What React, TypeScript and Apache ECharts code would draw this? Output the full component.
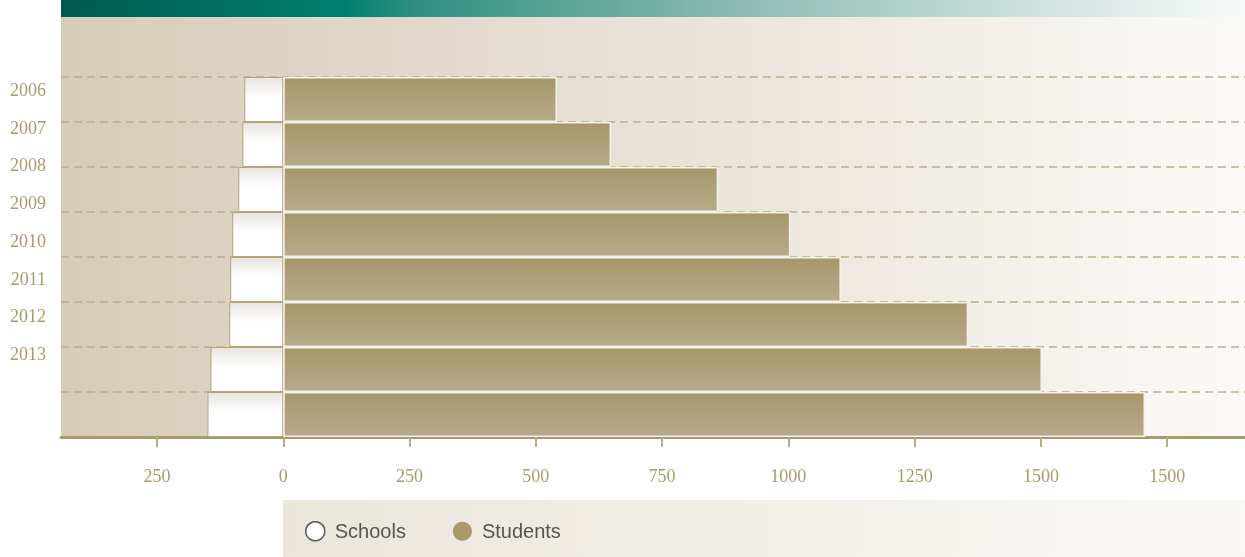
import React, { useEffect, useRef } from "react";
import * as echarts from "echarts";

const years = ["2006", "2007", "2008", "2009", "2010", "2011", "2012", "2013"];
const barSlots = ["1", "2", "3", "4", "5", "6", "7", "8"];
const schools = [77, 81, 89, 101, 105, 107, 144, 150];
const students = [542, 649, 861, 1004, 1104, 1356, 1502, 1706];
const xTickValues = [-250, 0, 250, 500, 750, 1000, 1250, 1500, 1750];
const xTickLabels = ["250", "0", "250", "500", "750", "1000", "1250", "1500", "1500"];

const TAN = "#a89a6c";

export default function App() {
  const ref = useRef<HTMLDivElement>(null);
  useEffect(() => {
    const chart = echarts.init(ref.current!, null, { renderer: "svg" });
    chart.setOption({
      animation: false,
      graphic: [
        {
          type: "rect",
          z: -10,
          shape: { x: 61, y: 0, width: 1184, height: 17 },
          style: {
            fill: new echarts.graphic.LinearGradient(0, 0, 1, 0, [
              { offset: 0, color: "#005a4f" },
              { offset: 0.24, color: "#00806f" },
              { offset: 0.3, color: "#2f8f82" },
              { offset: 0.55, color: "#86b8ae" },
              { offset: 0.8, color: "#c9dfda" },
              { offset: 1, color: "#f8fbfa" },
            ]),
          },
        },
        {
          type: "rect",
          z: -10,
          shape: { x: 61, y: 17, width: 1184, height: 420 },
          style: {
            fill: new echarts.graphic.LinearGradient(0, 0, 1, 0, [
              { offset: 0, color: "#d6cdb9" },
              { offset: 0.5, color: "#e8e2d7" },
              { offset: 1, color: "#fbfaf8" },
            ]),
          },
        },
        {
          type: "rect",
          z: -10,
          shape: { x: 283, y: 500, width: 962, height: 57 },
          style: {
            fill: new echarts.graphic.LinearGradient(0, 0, 1, 0, [
              { offset: 0, color: "#ebe6dc" },
              { offset: 1, color: "#faf9f6" },
            ]),
          },
        },
      ],
      legend: {
        left: 300,
        top: 516,
        itemWidth: 19,
        itemHeight: 19,
        itemGap: 47,
        icon: "circle",
        textStyle: {
          fontFamily: "Liberation Sans",
          fontSize: 20,
          color: "#555555",
          padding: [0, 0, 0, 5],
        },
        data: [
          {
            name: "Schools",
            itemStyle: { color: "#ffffff", borderColor: "#555555", borderWidth: 1.5 },
          },
          { name: "Students", itemStyle: { color: TAN, borderWidth: 0 } },
        ],
      },
      grid: [
        { left: 61, right: 0, top: 77, bottom: 120, containLabel: false },
        { left: 0, width: 61, top: 71, height: 302, containLabel: false },
      ],
      xAxis: [
        {
          type: "value",
          gridIndex: 0,
          min: -440,
          max: 1904,
          axisLine: { show: true, lineStyle: { color: TAN, width: 3 } },
          axisTick: {
            show: true,
            customValues: xTickValues,
            length: 10,
            lineStyle: { color: "#b8ab85", width: 2 },
          },
          axisLabel: {
            customValues: xTickValues,
            margin: 30,
            fontFamily: "Liberation Serif",
            fontSize: 18,
            color: TAN,
            formatter: (v: number) => {
              const i = xTickValues.indexOf(v);
              return i >= 0 ? xTickLabels[i] : "";
            },
          },
          splitLine: { show: false },
        },
        {
          type: "value",
          gridIndex: 1,
          show: false,
        },
      ],
      yAxis: [
        {
          type: "category",
          gridIndex: 0,
          data: barSlots,
          inverse: true,
          axisLine: { show: false },
          axisTick: { show: false },
          axisLabel: { show: false },
          splitLine: {
            show: true,
            lineStyle: { color: "#bcae8c", width: 1.5, type: [8, 5] },
          },
        },
        {
          type: "category",
          gridIndex: 1,
          data: years,
          inverse: true,
          axisLine: { show: false },
          axisTick: { show: false },
          splitLine: { show: false },
          axisLabel: {
            margin: 15,
            fontFamily: "Liberation Serif",
            fontSize: 18,
            color: TAN,
          },
        },
      ],
      series: [
        {
          name: "Schools",
          type: "bar",
          xAxisIndex: 0,
          yAxisIndex: 0,
          data: schools.map((v) => -v),
          barCategoryGap: "0%",
          barGap: "-100%",
          itemStyle: {
            color: new echarts.graphic.LinearGradient(0, 0, 0, 1, [
              { offset: 0, color: "#e8e5de" },
              { offset: 0.45, color: "#ffffff" },
              { offset: 1, color: "#ffffff" },
            ]),
            borderColor: "#b3a47c",
            borderWidth: 1,
          },
        },
        {
          name: "Students",
          type: "bar",
          xAxisIndex: 0,
          yAxisIndex: 0,
          data: students,
          barCategoryGap: "0%",
          barGap: "-100%",
          itemStyle: {
            color: new echarts.graphic.LinearGradient(0, 0, 0, 1, [
              { offset: 0, color: "#a6976a" },
              { offset: 1, color: "#b7aa89" },
            ]),
            borderColor: "#f4f1ea",
            borderWidth: 1.5,
          },
        },
      ],
    });
    return () => chart.dispose();
  }, []);
  return (
    <div
      ref={ref}
      style={{ position: "fixed", left: 0, top: 0, width: 1245, height: 557 }}
    />
  );
}
